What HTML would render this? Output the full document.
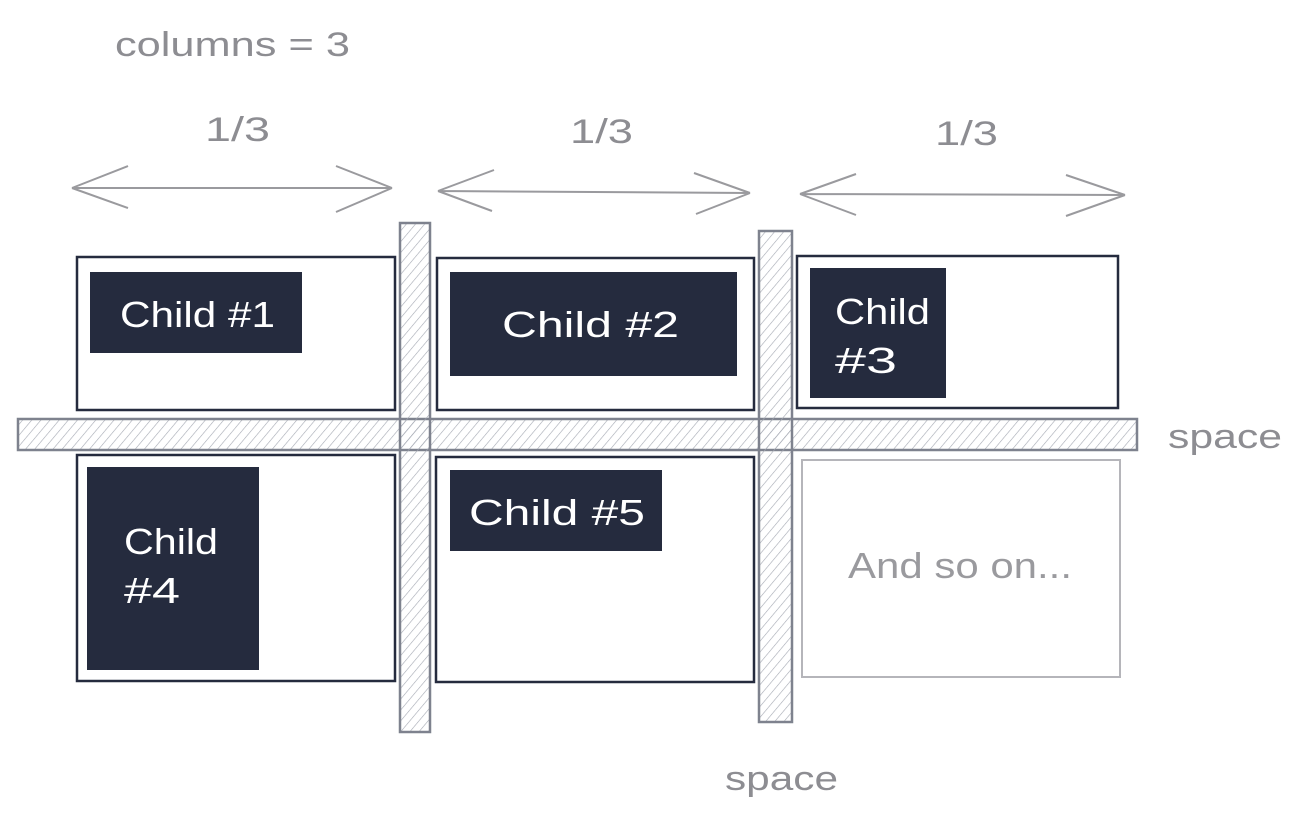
<!DOCTYPE html>
<html><head><meta charset="utf-8"><style>
html,body{margin:0;padding:0;background:#fff;width:1299px;height:824px;overflow:hidden}
text{font-family:"Liberation Sans",sans-serif}
</style></head><body>
<svg width="1299" height="824" viewBox="0 0 1299 824" xmlns="http://www.w3.org/2000/svg">
<defs>
<pattern id="h" width="7" height="7" patternUnits="userSpaceOnUse" patternTransform="rotate(40)">
<line x1="0" y1="0" x2="0" y2="7" stroke="#a4a8b2" stroke-width="1.2"/>
</pattern>
</defs>
<g fill="#8d8d92" font-size="34" lengthAdjust="spacingAndGlyphs">
<text x="115" y="56" textLength="235" lengthAdjust="spacingAndGlyphs">columns = 3</text>
<text x="205" y="141" textLength="65" lengthAdjust="spacingAndGlyphs">1/3</text>
<text x="570" y="143" textLength="63" lengthAdjust="spacingAndGlyphs">1/3</text>
<text x="935" y="145" textLength="63" lengthAdjust="spacingAndGlyphs">1/3</text>
<text x="1168" y="448" textLength="114" lengthAdjust="spacingAndGlyphs">space</text>
<text x="725" y="790" textLength="113" lengthAdjust="spacingAndGlyphs">space</text>
</g>
<g stroke="#9a9a9e" stroke-width="2" fill="none">
<path d="M72 188 L392 188 M72 188 L128 166 M72 188 L128 208 M392 188 L336 166 M392 188 L336 212"/>
<path d="M438 191 L750 193 M438 191 L494 170 M438 191 L492 211 M750 193 L694 173 M750 193 L696 214"/>
<path d="M800 194 L1125 195 M800 194 L856 174 M800 194 L856 215 M1125 195 L1066 175 M1125 195 L1066 216"/>
</g>
<g stroke="#7e828e" stroke-width="2.5">
<rect x="18" y="419" width="1119" height="31" fill="url(#h)"/>
<rect x="400" y="223" width="30" height="509" fill="url(#h)"/>
<rect x="759" y="231" width="33" height="491" fill="url(#h)"/>
</g>
<g stroke="#252b3e" stroke-width="2.5" fill="none">
<rect x="77" y="257" width="318" height="153"/>
<rect x="437" y="258" width="317" height="152"/>
<rect x="797" y="256" width="321" height="152"/>
<rect x="77" y="455" width="318" height="226"/>
<rect x="436" y="457" width="318" height="225"/>
</g>
<rect x="802" y="460" width="318" height="217" fill="none" stroke="#b5b5ba" stroke-width="2"/>
<g fill="#252b3e">
<rect x="90" y="272" width="212" height="81"/>
<rect x="450" y="272" width="287" height="104"/>
<rect x="810" y="268" width="136" height="130"/>
<rect x="87" y="467" width="172" height="203"/>
<rect x="450" y="470" width="212" height="81"/>
</g>
<g fill="#fff" font-size="36">
<text x="120" y="327" textLength="155" lengthAdjust="spacingAndGlyphs">Child #1</text>
<text x="502" y="337" textLength="177" lengthAdjust="spacingAndGlyphs">Child #2</text>
<text x="835" y="324" textLength="95" lengthAdjust="spacingAndGlyphs">Child</text>
<text x="835" y="373" textLength="62" lengthAdjust="spacingAndGlyphs">#3</text>
<text x="124" y="554" textLength="94" lengthAdjust="spacingAndGlyphs">Child</text>
<text x="124" y="603" textLength="56" lengthAdjust="spacingAndGlyphs">#4</text>
<text x="469" y="525" textLength="176" lengthAdjust="spacingAndGlyphs">Child #5</text>
</g>
<text x="848" y="578" fill="#9a9a9e" font-size="36" textLength="224" lengthAdjust="spacingAndGlyphs">And so on...</text>
</svg>
</body></html>
